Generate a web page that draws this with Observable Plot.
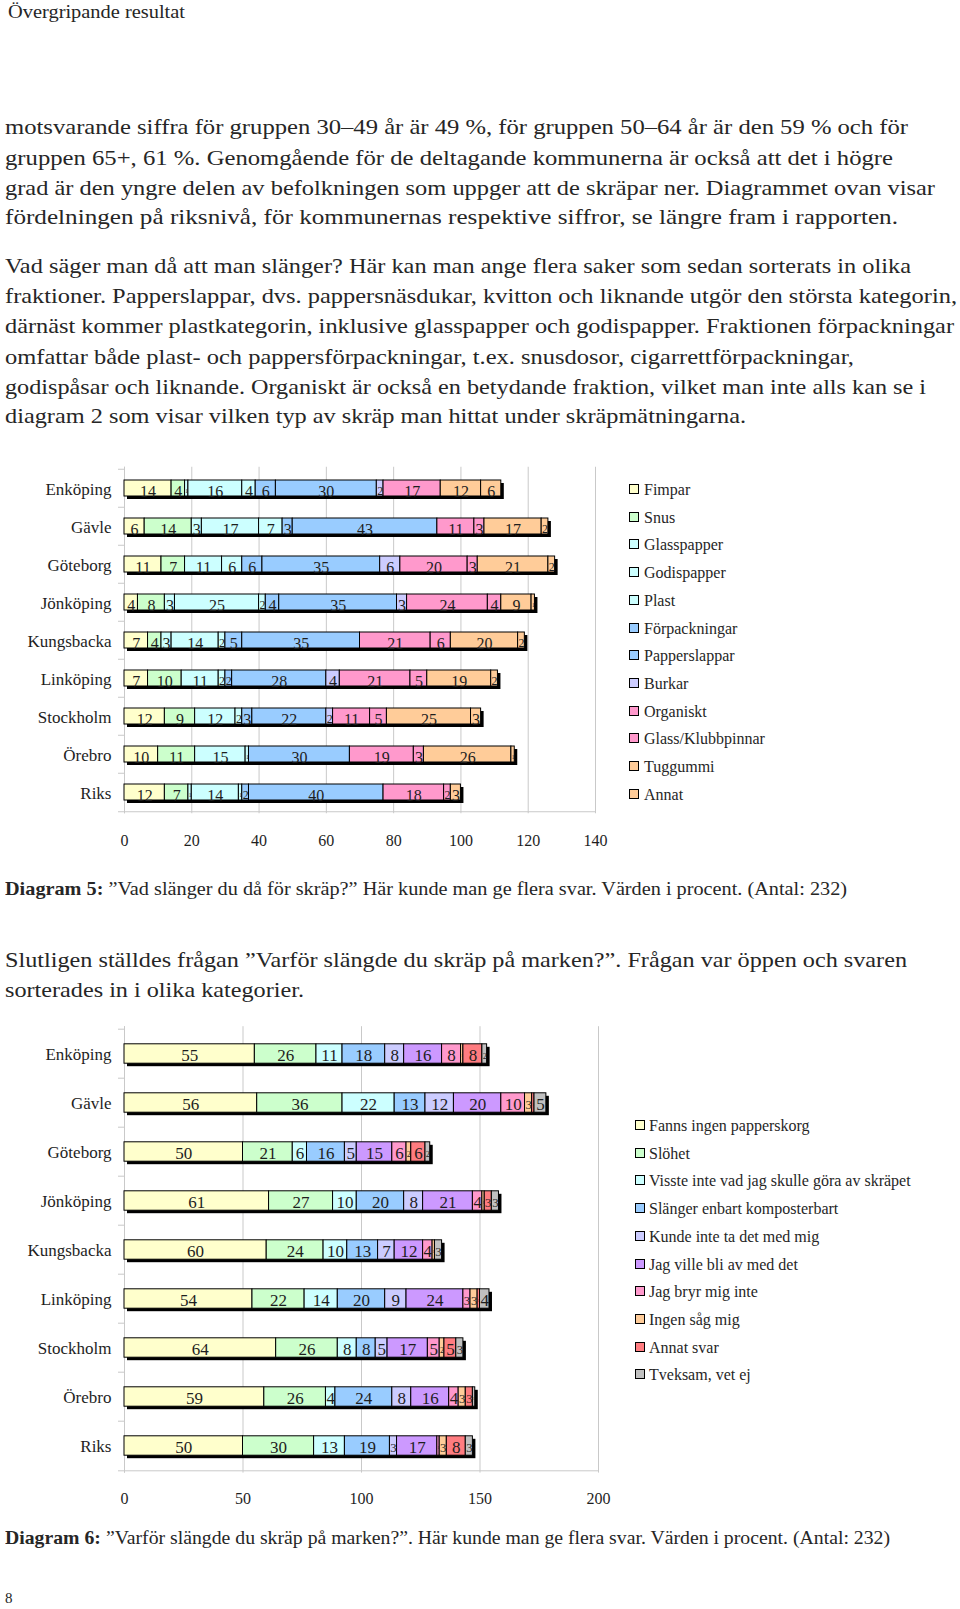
<!DOCTYPE html>
<html lang="sv"><head><meta charset="utf-8">
<script src="https://cdn.jsdelivr.net/npm/d3@7"></script>
<script src="https://cdn.jsdelivr.net/npm/@observablehq/plot@0.6"></script>
<style>
html,body{margin:0;padding:0;background:#fff}
body{width:960px;height:1609px;position:relative;overflow:hidden;font-family:"Liberation Serif","Times New Roman",serif;color:#262626}
.t{position:absolute;white-space:nowrap;transform-origin:0 50%;line-height:30px;font-size:21px}
.cap{font-size:19px}
.chart{position:absolute;left:0}
.sw{position:absolute;width:8px;height:8px;border:1px solid #000}
.lab{position:absolute;font-size:16px;white-space:nowrap;line-height:20px}
</style></head><body>
<div class="t" style="left:8px;top:-3px;font-size:18px" data-w="177">Övergripande resultat</div>

<div class="t" style="left:5px;top:112px" data-w="903">motsvarande siffra för gruppen 30–49 år är 49 %, för gruppen 50–64 år är den 59 % och för</div>
<div class="t" style="left:5px;top:143px" data-w="888">gruppen 65+, 61 %. Genomgående för de deltagande kommunerna är också att det i högre</div>
<div class="t" style="left:5px;top:173px" data-w="930">grad är den yngre delen av befolkningen som uppger att de skräpar ner. Diagrammet ovan visar</div>
<div class="t" style="left:5px;top:202px" data-w="893">fördelningen på riksnivå, för kommunernas respektive siffror, se längre fram i rapporten.</div>

<div class="t" style="left:5px;top:251px" data-w="906">Vad säger man då att man slänger? Här kan man ange flera saker som sedan sorterats in olika</div>
<div class="t" style="left:5px;top:281px" data-w="952">fraktioner. Papperslappar, dvs. pappersnäsdukar, kvitton och liknande utgör den största kategorin,</div>
<div class="t" style="left:5px;top:311px" data-w="949">därnäst kommer plastkategorin, inklusive glasspapper och godispapper. Fraktionen förpackningar</div>
<div class="t" style="left:5px;top:342px" data-w="849">omfattar både plast- och pappersförpackningar, t.ex. snusdosor, cigarrettförpackningar,</div>
<div class="t" style="left:5px;top:372px" data-w="921">godispåsar och liknande. Organiskt är också en betydande fraktion, vilket man inte alls kan se i</div>
<div class="t" style="left:5px;top:401px" data-w="741">diagram 2 som visar vilken typ av skräp man hittat under skräpmätningarna.</div>

<div class="t cap" style="left:5px;top:874px" data-w="842"><b>Diagram 5:</b> ”Vad slänger du då för skräp?” Här kunde man ge flera svar. Värden i procent. (Antal: 232)</div>

<div class="t" style="left:5px;top:945px" data-w="902">Slutligen ställdes frågan ”Varför slängde du skräp på marken?”. Frågan var öppen och svaren</div>
<div class="t" style="left:5px;top:975px" data-w="299">sorterades in i olika kategorier.</div>

<div class="t cap" style="left:5px;top:1523px" data-w="885"><b>Diagram 6:</b> ”Varför slängde du skräp på marken?”. Här kunde man ge flera svar. Värden i procent. (Antal: 232)</div>

<div class="t" style="left:5px;top:1583px;font-size:15px">8</div>

<div id="c1" class="chart" style="top:455px"></div>
<div id="c2" class="chart" style="top:1015px"></div>

<script>
// ---------- shared ----------
const cities = ["Enköping","Gävle","Göteborg","Jönköping","Kungsbacka","Linköping","Stockholm","Örebro","Riks"];

// ---------- Diagram 5 ----------
const wasteCategories = ["Fimpar","Snus","Glasspapper","Godispapper","Plast","Förpackningar","Papperslappar","Burkar","Organiskt","Glass/Klubbpinnar","Tuggummi","Annat"];
const wasteColors = ["#FFFFCC","#CCFFCC","#CCFFFF","#CCFFFF","#CCFFFF","#99CCFF","#99CCFF","#CCCCFF","#FF99CC","#FF99CC","#FFCC99","#FFCC99"];
const fimpar        = [14, 6,11, 4, 7, 7,12,10,12];
const snus          = [ 4,14, 7, 8, 4,10, 9,11, 7];
const glasspapper   = [ 1, 3, 0, 3, 3, 0, 0, 0, 1];
const godispapper   = [16,17,11,25,14,11,12,15,14];
const plast         = [ 4, 7, 6, 2, 2, 2, 2, 1, 1];
const forpackningar = [ 6, 3, 6, 4, 5, 2, 3, 0, 2];
const papperslappar = [30,43,35,35,35,28,22,30,40];
const burkar        = [ 2, 0, 6, 3, 0, 4, 2, 0, 0];
const organiskt     = [17,11,20,24,21,21,11,19,18];
const glassKlubb    = [ 0, 3, 3, 4, 6, 5, 5, 3, 2];
const tuggummi      = [12,17,21, 9,20,19,25,26, 3];
const annat         = [ 6, 2, 2, 1, 2, 2, 3, 1, 0];
const wasteSeries = [fimpar,snus,glasspapper,godispapper,plast,forpackningar,papperslappar,burkar,organiskt,glassKlubb,tuggummi,annat];
const wasteTicks = [0,20,40,60,80,100,120,140];

// ---------- Diagram 6 ----------
const reasonCategories = ["Fanns ingen papperskorg","Slöhet","Visste inte vad jag skulle göra av skräpet","Slänger enbart komposterbart","Kunde inte ta det med mig","Jag ville bli av med det","Jag bryr mig inte","Ingen såg mig","Annat svar","Tveksam, vet ej"];
const reasonColors = ["#FFFFCC","#CCFFCC","#CCFFFF","#99CCFF","#CCCCFF","#CC99FF","#FF99CC","#FFCC99","#FF7C80","#C0C0C0"];
const ingenKorg     = [55,56,50,61,60,54,64,59,50];
const slohet        = [26,36,21,27,24,22,26,26,30];
const vissteInte    = [11,22, 6,10,10,14, 8, 4,13];
const komposterbart = [18,13,16,20,13,20, 8,24,19];
const kundeInte     = [ 8,12, 5, 8, 7, 9, 5, 8, 3];
const villeBliAv    = [16,20,15,21,12,24,17,16,17];
const bryrMigInte   = [ 8,10, 6, 4, 4, 3, 5, 4, 1];
const ingenSag      = [ 1, 3, 2, 1, 1, 3, 2, 3, 3];
const annatSvar     = [ 8, 1, 6, 3, 0, 1, 5, 3, 8];
const tveksam       = [ 2, 5, 2, 3, 3, 4, 3, 1, 3];
const reasonSeries = [ingenKorg,slohet,vissteInte,komposterbart,kundeInte,villeBliAv,bryrMigInte,ingenSag,annatSvar,tveksam];
const reasonTicks = [0,50,100,150,200];

function chart(cats, colors, series, o) {
  const pxPerUnit = (o.xEnd - 124) / o.max;
  const rows = [];
  cities.forEach((city, i) => cats.forEach((cat, j) => {
    const v = series[j][i];
    if (v > 0) {
      // labels in narrow segments are set smaller so that they fit their segment
      const fs = Math.max(4, Math.min(o.labelSize, (v * pxPerUnit - 0.5) / (0.52 * String(v).length)));
      rows.push({city, cat, value: v, fs});
    }
  }));
  const totals = cities.map((city, i) => ({city, total: d3.sum(series, s => s[i])}));
  const height = o.marginTop + o.step * cities.length + o.marginBottom;
  const grey = "#c9c9c9";
  return Plot.plot({
    width: 620, height,
    marginLeft: 124, marginRight: 620 - o.xEnd, marginTop: o.marginTop, marginBottom: o.marginBottom,
    style: {fontFamily: '"Liberation Serif", serif', fontSize: "16px", color: "#1e1e1e", background: "transparent", overflow: "visible"},
    x: {domain: [0, o.max]},
    y: {domain: cities, padding: 0},
    color: {domain: cats, range: colors},
    marks: [
      Plot.gridX({ticks: o.ticks, stroke: grey, strokeOpacity: 1}),
      Plot.ruleX([0], {stroke: grey}),
      Plot.ruleY(cities, {y: d => d, x1: 0, x2: 0, insetLeft: -6, dy: -o.step / 2, stroke: grey}),
      Plot.ruleY(cities.slice(-1), {y: d => d, x1: 0, x2: o.max, insetLeft: -6, dy: o.step / 2, stroke: grey}),
      Plot.barX(totals, {x: "total", y: "city", fill: "#000", dx: 3, dy: 3, insetTop: o.inset, insetBottom: o.inset}),
      Plot.barX(rows, {x: "value", y: "city", fill: "cat", stroke: "#000", strokeWidth: 1, insetTop: o.inset, insetBottom: o.inset}),
      Plot.text(rows, Plot.stackX({x: "value", y: "city", text: "value", dy: o.labelDy, fontSize: d => d.fs, fill: "#1e1e1e"})),
      Plot.axisX({ticks: o.ticks, tickSize: 0, tickPadding: o.tickPad, fontSize: 16, label: null}),
      Plot.axisY({tickSize: 0, tickPadding: 13, fontSize: 17, label: null, dy: 1})
    ]
  });
}

// clip each value label to its own segment, as the later segments hide overflowing labels
let clipId = 0;
function clipLabels(svg) {
  try {
    const barGroups = svg.querySelectorAll('g[aria-label="bar"]');
    const rects = barGroups[barGroups.length - 1].querySelectorAll("rect");
    const texts = svg.querySelector('g[aria-label="text"]').querySelectorAll("text");
    if (rects.length !== texts.length) return;
    const ns = "http://www.w3.org/2000/svg";
    const defs = document.createElementNS(ns, "defs");
    svg.prepend(defs);
    rects.forEach((r, i) => {
      const t = texts[i];
      const mr = r.getCTM(), mt = t.getCTM();
      const ox = mr.e - mt.e, oy = mr.f - mt.f;
      const x = +r.getAttribute("x"), y = +r.getAttribute("y");
      const w = +r.getAttribute("width"), h = +r.getAttribute("height");
      const cp = document.createElementNS(ns, "clipPath");
      const id = "lc" + (clipId++);
      cp.setAttribute("id", id);
      const cr = document.createElementNS(ns, "rect");
      cr.setAttribute("x", x + ox + 0.5);
      cr.setAttribute("y", y + oy - 4);
      cr.setAttribute("width", Math.max(0, w - 0.5));
      cr.setAttribute("height", h + 7);
      cp.append(cr);
      defs.append(cp);
      t.setAttribute("clip-path", `url(#${id})`);
    });
  } catch (e) { /* keep labels unclipped */ }
}

const svg1 = chart(wasteCategories, wasteColors, wasteSeries, {
  max: 140, ticks: wasteTicks, xEnd: 595, step: 38.5, marginTop: 11.75, marginBottom: 49.75,
  inset: 11, labelDy: 3, labelSize: 16, tickPad: 21
});
document.getElementById("c1").append(svg1);
clipLabels(svg1);

const svg2 = chart(reasonCategories, reasonColors, reasonSeries, {
  max: 200, ticks: reasonTicks, xEnd: 598, step: 49.6, marginTop: 11.2, marginBottom: 50.4,
  inset: 14.8, labelDy: 2, labelSize: 17, tickPad: 19.5
});
document.getElementById("c2").append(svg2);
clipLabels(svg2);

function legend(cats, colors, swX, txtX, y0, dy) {
  cats.forEach((c, i) => {
    const cy = y0 + i * dy;
    const sw = document.createElement("div");
    sw.className = "sw";
    sw.style.cssText = `left:${swX}px;top:${cy - 6}px;background:${colors[i]}`;
    const lb = document.createElement("div");
    lb.className = "lab";
    lb.textContent = c;
    lb.style.cssText = `left:${txtX}px;top:${cy - 10}px`;
    document.body.append(sw, lb);
  });
}
legend(wasteCategories, wasteColors, 629, 644, 490, 27.7);
legend(reasonCategories, reasonColors, 635, 649, 1126, 27.7);

// fit text lines to the widths measured on the page
document.querySelectorAll("[data-w]").forEach(el => {
  const w = el.getBoundingClientRect().width;
  const target = +el.dataset.w;
  if (w > 0) el.style.transform = `scaleX(${target / w})`;
});
</script>
</body></html>
